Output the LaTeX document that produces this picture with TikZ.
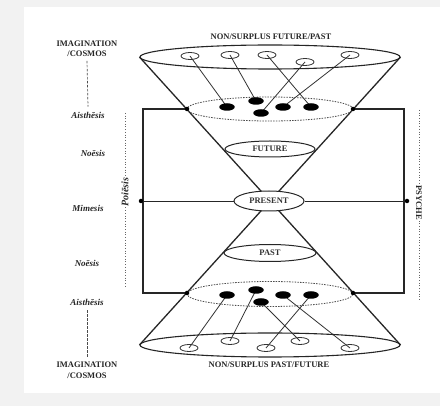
\documentclass[tikz,border=0pt]{standalone}
\usepackage{fontspec}
\setmainfont{Liberation Serif}
\usetikzlibrary{shapes.geometric}
\pgfdeclarelayer{bg}
\pgfdeclarelayer{back}
\pgfsetlayers{bg,back,main}
\begin{document}
\begin{tikzpicture}[x=1pt,y=-1pt,
  lbl/.style={font=\fontsize{8.5}{10.5}\selectfont\bfseries, text=black!85, inner sep=0pt, align=center},
  ilbl/.style={font=\fontsize{9}{10}\selectfont\bfseries\itshape, text=black!85, inner sep=0pt},
  bigell/.style={ellipse, draw=black!85, line width=1.1pt, inner sep=0pt},
  dell/.style={ellipse, draw=black!70, line width=0.8pt, dash pattern=on 1.5pt off 1.2pt, inner sep=0pt},
  tell/.style={ellipse, draw=black!85, fill=white, line width=1pt, inner sep=0pt, font=\fontsize{8.5}{10}\selectfont\bfseries, text=black!80},
  oell/.style={ellipse, draw=black!80, line width=0.8pt, minimum width=18pt, minimum height=7pt, inner sep=0pt},
  fell/.style={ellipse, fill=black, minimum width=15.5pt, minimum height=7.5pt, inner sep=0pt},
  dot/.style={circle, fill=black, minimum size=4.5pt, inner sep=0pt},
  cone/.style={line width=1.3pt, draw=black!85},
  frame/.style={line width=1.1pt, draw=black!85},
  link/.style={line width=0.8pt, draw=black!80},
  vdot/.style={line width=0.9pt, draw=black!60, dash pattern=on 0.9pt off 1.8pt},
  vdash/.style={line width=0.7pt, draw=black!70, dash pattern=on 2.5pt off 1.5pt}
]
\useasboundingbox (0,0) rectangle (440,406);
\begin{pgfonlayer}{bg}
  \fill[black!5] (0,0) rectangle (440,406);
  \fill[white] (24,7) rectangle (440,393);
\end{pgfonlayer}

% big ellipses
\node[bigell, minimum width=260pt, minimum height=24pt] (topE) at (270,57) {};
\node[bigell, minimum width=260pt, minimum height=24pt] (botE) at (270,345) {};
\node[dell, minimum width=166pt, minimum height=24pt] (topD) at (270,109) {};
\node[dell, minimum width=166pt, minimum height=25pt] (botD) at (270,294) {};

% time ellipses
\node[tell, minimum width=90pt, minimum height=16pt] (fut) at (270,149) {FUTURE};
\node[tell, minimum width=70pt, minimum height=20pt] (pres) at (269,201) {PRESENT};
\node[tell, minimum width=92pt, minimum height=17pt] (past) at (270,253) {PAST};

% dots
\node[dot] (dTL) at (187,109) {};
\node[dot] (dTR) at (353,109) {};
\node[dot] (dBL) at (187,293) {};
\node[dot] (dBR) at (353,293) {};
\node[dot] (dML) at (141,201) {};
\node[dot] (dMR) at (407,201) {};
\coordinate (cTL) at (143,109);
\coordinate (cBL) at (143,293);
\coordinate (cTR) at (404,109);
\coordinate (cBR) at (404,293);

% top small ellipses
\node[oell] (to1) at (190,56) {};
\node[oell] (to2) at (230,55) {};
\node[oell] (to3) at (267,55) {};
\node[oell] (to4) at (305,62) {};
\node[oell] (to5) at (350,55) {};
\node[fell] (tf1) at (227,107) {};
\node[fell] (tf2) at (256,101) {};
\node[fell] (tf3) at (261,113) {};
\node[fell] (tf4) at (283,107) {};
\node[fell] (tf5) at (311,107) {};

% bottom small ellipses
\node[oell] (bo1) at (189,348) {};
\node[oell] (bo2) at (230,341) {};
\node[oell] (bo3) at (266,348) {};
\node[oell] (bo4) at (300,341) {};
\node[oell] (bo5) at (350,348) {};
\node[fell] (bf1) at (227,295) {};
\node[fell] (bf2) at (256,290) {};
\node[fell] (bf3) at (261,302) {};
\node[fell] (bf4) at (283,295) {};
\node[fell] (bf5) at (311,295) {};

% labels
\node[lbl] (ttl) at (271,37) {NON/SURPLUS FUTURE/PAST};
\node[lbl] (btl) at (269,365) {NON/SURPLUS PAST/FUTURE};
\node[lbl] (imgT) at (87,48.5) {IMAGINATION\\/COSMOS};
\node[lbl] (imgB) at (87,370) {IMAGINATION\\/COSMOS};
\node[ilbl] (aisT) at (88,115) {Aisthēsis};
\node[ilbl] (noeT) at (93,153) {Noēsis};
\node[ilbl] (mim) at (88,208) {Mimesis};
\node[ilbl] (noeB) at (87,263) {Noēsis};
\node[ilbl] (aisB) at (87,302) {Aisthēsis};
\node[ilbl, font=\fontsize{10}{11}\selectfont\bfseries\itshape, fill=white, inner sep=1pt, rotate=90] (poi) at (125,192) {Poiēsis};
\node[lbl, fill=white, inner sep=1pt, rotate=-90] (psy) at (419,203) {PSYCHE};
\coordinate (pvT) at (125,113);
\coordinate (pvB) at (125,286);
\coordinate (svT) at (419,110);
\coordinate (svB) at (419,300);

\begin{pgfonlayer}{back}
  \draw[cone] (topE.west) -- (botE.east);
  \draw[cone] (topE.east) -- (botE.west);
  \draw[frame] (dTL.center) -- (cTL) -- (cBL) -- (dBL.center);
  \draw[frame] (dTR.center) -- (cTR) -- (cBR) -- (dBR.center);
  \draw[frame, line width=0.9pt] (dML.center) -- (pres) -- (dMR.center);
  \draw[link] (to1.center) -- (tf1.center);
  \draw[link] (to2.center) -- (tf2.center);
  \draw[link] (to3.center) -- (tf5.center);
  \draw[link] (to4.center) -- (tf3.center);
  \draw[link] (to5.center) -- (tf4.center);
  \draw[link] (bf1.center) -- (bo1.center);
  \draw[link] (bf2.center) -- (bo2.center);
  \draw[link] (bf3.center) -- (bo4.center);
  \draw[link] (bf4.center) -- (bo5.center);
  \draw[link] (bf5.center) -- (bo3.center);
  \draw[vdot] (pvT) -- (pvB);
  \draw[vdot] (svT) -- (svB);
  \draw[vdash] ([yshift=-4pt]imgT.south) -- ([yshift=5pt]aisT.north);
  \draw[vdash] ([yshift=-5pt]aisB.south) -- ([yshift=4pt]imgB.north);
\end{pgfonlayer}
\end{tikzpicture}
\end{document}
